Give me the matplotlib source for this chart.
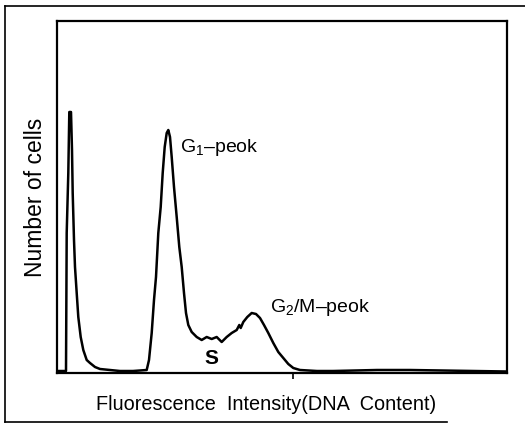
import matplotlib
matplotlib.use('Agg')
import matplotlib.pyplot as plt
from matplotlib.lines import Line2D

plt.rcParams['font.family'] = ['Liberation Sans', 'DejaVu Sans']
plt.rcParams['mathtext.fontset'] = 'custom'
plt.rcParams['mathtext.rm'] = 'Liberation Sans'
plt.rcParams['mathtext.it'] = 'Liberation Sans'

# DNA histogram (channel, counts)
channel = [0, 9.0, 9.7, 11.3, 12.3, 14, 15, 15.7, 17, 18, 19.7, 21.3, 23.7, 26.3, 29.7,
           33, 38, 43, 53, 63, 76, 89.7,
           92, 94.7, 97, 99, 101.3, 103.7, 105.7, 107.7, 109.7, 111.3, 113, 114.7, 117,
           119.7, 122.3, 124.7, 127, 129, 131.3, 134.7, 139.7, 144.7, 149.7, 154.7,
           159.7, 164.7, 169.7, 174.7, 179.7, 182.3, 183.7, 186.3, 190.3, 194.7, 199,
           203, 207, 211.3, 216.3, 221.3, 226.3, 231.3, 236.3, 243, 260, 276, 320, 353, 450]
counts = [2, 2, 140, 200, 261, 261, 223, 180, 133, 106, 80, 56, 36, 23, 13,
          10, 6, 4, 3, 2, 2, 3,
          13, 40, 73, 96, 140, 166, 200, 226, 240, 243, 236, 216, 186,
          156, 126, 106, 80, 60, 48, 41, 36, 33, 36, 34,
          36, 31, 36, 40, 43, 48, 45, 51, 56, 60, 59,
          55, 48, 40, 30, 21, 15, 9, 5, 3, 2, 2, 3, 3, 1.5]

fig = plt.figure(figsize=(5.25, 4.25), dpi=100)
ax = fig.add_axes([57/525, 52/425, 450/525, 352/425])

ax.plot(channel, counts, color='black', lw=1.8, solid_joinstyle='round')
ax.set_xlim(0, 450)
ax.set_ylim(0, 352)

for s in ax.spines.values():
    s.set_linewidth(1.6)
ax.set_xticks([236])
ax.set_xticklabels([])
ax.tick_params(axis='x', direction='out', length=4, width=1.2)
ax.set_yticks([])

ax.set_xlabel('Fluorescence  Intensity(DNA  Content)', fontsize=14.3)
ax.xaxis.set_label_coords(0.464, -0.063)
ax.set_ylabel('Number of cells', fontsize=16.5, labelpad=7)

ax.text(123, 226, r'G$_\mathrm{1}$–peok', fontsize=14, va='center', ha='left')
ax.text(213, 65, r'G$_\mathrm{2}$/M–peok', fontsize=14, va='center', ha='left')
ax.text(154, 14, 'S', fontsize=15, fontweight='bold', va='center', ha='center')

# outer scan frame
fig.add_artist(Line2D([5/525, 5/525], [1 - 6/425, 1 - 422/425], color='black', lw=1.2))
fig.add_artist(Line2D([5/525, 1.0], [1 - 6/425, 1 - 6/425], color='black', lw=1.2))
fig.add_artist(Line2D([5/525, 447/525], [1 - 422/425, 1 - 422/425], color='black', lw=1.2))

fig.savefig('out.png', dpi=100)
